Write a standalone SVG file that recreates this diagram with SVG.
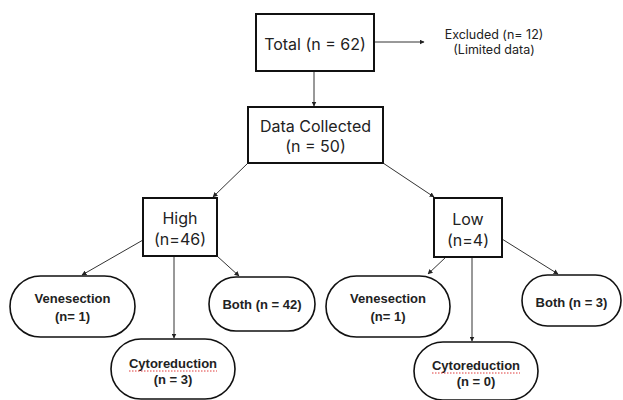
<svg xmlns="http://www.w3.org/2000/svg" width="623" height="400" viewBox="0 0 623 400">
<defs>
<marker id="ah" viewBox="0 0 10 10" refX="9" refY="5" markerWidth="5" markerHeight="5" orient="auto" markerUnits="userSpaceOnUse">
<path d="M0,0 L10,5 L0,10 z" fill="#222"/>
</marker>
</defs>
<style>
.box{fill:#fff;stroke:#111;stroke-width:2}
.oval{fill:#fff;stroke:#111;stroke-width:1.6}
.t{font-family:Inter,"Liberation Sans",sans-serif;font-size:16px;fill:#222;text-anchor:middle}
.s{font-family:Inter,"Liberation Sans",sans-serif;font-size:12.5px;fill:#222;text-anchor:middle}
.b{font-family:"Liberation Sans",Arial,sans-serif;font-size:13px;font-weight:bold;fill:#222;text-anchor:middle}
.c{stroke:#333;stroke-width:1;fill:none;marker-end:url(#ah)}
.sp{stroke:#e03a3a;stroke-width:1;stroke-dasharray:1.5 1.5;fill:none}
</style>
<rect width="623" height="400" fill="#fff"/>
<g id="connectors">
<line class="c" x1="374" y1="42" x2="424" y2="42"/>
<line class="c" x1="314" y1="71" x2="314" y2="106"/>
<line class="c" x1="248" y1="163" x2="213" y2="197"/>
<line class="c" x1="383" y1="163" x2="434" y2="197"/>
<line class="c" x1="143" y1="240" x2="82" y2="275"/>
<line class="c" x1="174" y1="256" x2="174" y2="338"/>
<line class="c" x1="217" y1="256" x2="239" y2="276"/>
<line class="c" x1="446" y1="257" x2="428" y2="274"/>
<line class="c" x1="472" y1="257" x2="472" y2="341"/>
<line class="c" x1="502" y1="239" x2="558" y2="274"/>
</g>
<g id="total">
<rect class="box" x="256" y="14" width="118" height="57"/>
<text class="t" x="315" y="50">Total (n = 62)</text>
</g>
<g id="excluded">
<text class="s" x="494" y="39">Excluded (n= 12)</text>
<text class="s" x="494" y="54">(Limited data)</text>
</g>
<g id="collected">
<rect class="box" x="248" y="107" width="135" height="56"/>
<text class="t" x="315.5" y="132">Data Collected</text>
<text class="t" x="315.5" y="152">(n = 50)</text>
</g>
<g id="high">
<rect class="box" x="143" y="198" width="74" height="58"/>
<text class="t" x="180" y="224">High</text>
<text class="t" x="180" y="245">(n=46)</text>
</g>
<g id="low">
<rect class="box" x="434" y="198" width="68" height="59"/>
<text class="t" x="468" y="225">Low</text>
<text class="t" x="468" y="246">(n=4)</text>
</g>
<g id="high-venesection">
<rect class="oval" x="10" y="276" width="125" height="61" rx="30.5"/>
<text class="b" x="72.5" y="303">Venesection</text>
<text class="b" x="72.5" y="321">(n= 1)</text>
</g>
<g id="high-both">
<rect class="oval" x="209" y="277" width="106" height="54" rx="27"/>
<text class="b" x="262" y="309">Both (n = 42)</text>
</g>
<g id="high-cytoreduction">
<rect class="oval" x="111" y="339" width="124" height="60" rx="30"/>
<text class="b" x="173" y="368">Cytoreduction</text>
<path class="sp" d="M129,371 H217"/>
<text class="b" x="173" y="384">(n = 3)</text>
</g>
<g id="low-venesection">
<rect class="oval" x="326" y="276" width="124" height="61" rx="30.5"/>
<text class="b" x="388" y="303">Venesection</text>
<text class="b" x="388" y="321">(n= 1)</text>
</g>
<g id="low-both">
<rect class="oval" x="522" y="275" width="99" height="51" rx="25.5"/>
<text class="b" x="571.5" y="307">Both (n = 3)</text>
</g>
<g id="low-cytoreduction">
<rect class="oval" x="414" y="342" width="124" height="58" rx="29"/>
<text class="b" x="476" y="370">Cytoreduction</text>
<path class="sp" d="M432,373 H520"/>
<text class="b" x="476" y="386">(n = 0)</text>
</g>
</svg>
